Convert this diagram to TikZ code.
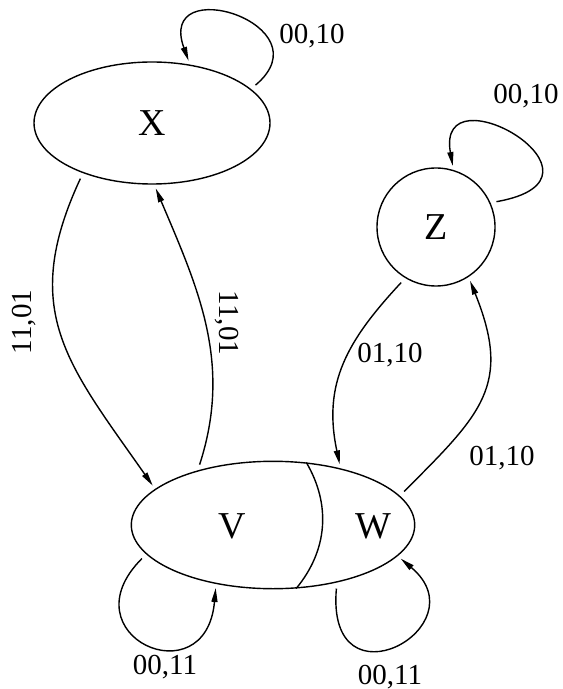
\documentclass[tikz,border=0pt]{standalone}
\usepackage{fontspec}
\setmainfont{Liberation Serif}
\usetikzlibrary{arrows.meta,shapes.geometric}

\begin{document}
\begin{tikzpicture}[x=0.5pt,y=0.5pt,line width=0.7pt,>={Triangle[length=7pt,width=3pt]},
  state/.style={draw,inner sep=0pt,font=\fontsize{19}{22}\selectfont},
  lbl/.style={inner sep=0pt,font=\fontsize{14.5}{17}\selectfont},
  trans/.style={->,shorten <=3pt,shorten >=2pt}]
\useasboundingbox (0,0) rectangle (562,-689);
\node[state,ellipse,minimum width=118pt,minimum height=61pt] (X) at (152,-123) {X};
\node[state,circle,minimum size=59pt] (Z) at (436,-227) {Z};
\node[state,ellipse,minimum width=141.7pt,minimum height=63.7pt] (vw) at (273,-525) {};
\node[state,draw=none] (V) at (232,-526) {V};
\node[state,draw=none] (W) at (373,-526) {W};
\draw (vw.62) to[bend left=35] (vw.-70);
\draw[trans] (X.19) .. controls +(40:100) and +(110:100) .. (X.57);
\draw[trans] (Z.24) .. controls +(10:140) and +(100:105) .. (Z.73);
\draw[trans] (X.216) to[out=-115,in=125,looseness=1.2] (vw.163);
\draw[trans] (vw.144) to[out=72,in=-67] (X.272);
\draw[trans] (Z.239) to[out=-133,in=102,looseness=1.1] (vw.40);
\draw[trans] (vw.13) to[out=45,in=-68,looseness=1.3] (Z.-57);
\draw[trans] (vw.193) .. controls +(-135:115) and +(-95:115) .. (vw.226);
\draw[trans] (vw.-42) .. controls +(-95:130) and +(-40:110) .. (vw.-14);
\node[lbl] (lxx) at (312,-36) {00,10};
\node[lbl] (lzz) at (526,-96) {00,10};
\node[lbl,rotate=90] (lxv) at (24,-322) {11,01};
\node[lbl,rotate=-90] (lvx) at (227,-323) {11,01};
\node[lbl] (lzw) at (390,-355) {01,10};
\node[lbl] (lwz) at (502,-458) {01,10};
\node[lbl] (lvv) at (165,-667) {00,11};
\node[lbl] (lww) at (390,-677) {00,11};
\end{tikzpicture}
\end{document}
